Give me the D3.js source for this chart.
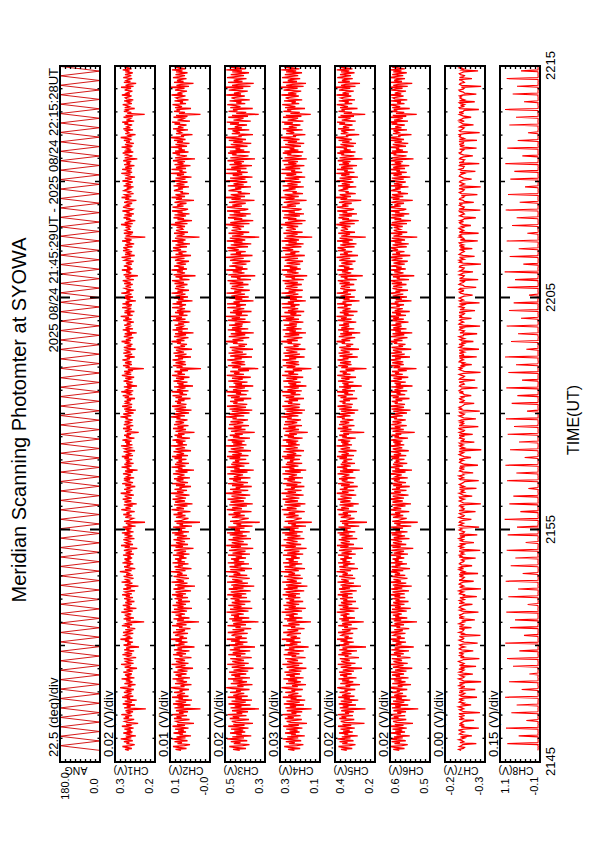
<!DOCTYPE html>
<html><head><meta charset="utf-8">
<script src="https://cdn.jsdelivr.net/npm/d3@7"></script>
<style>body{margin:0;background:#fff} svg{display:block} text{font-family:"Liberation Sans",Arial,Helvetica,sans-serif;fill:#000}</style>
</head><body><div id="chart"></div>
<script>
// ---------------- DATA ----------------
const titleText = "Meridian Scanning Photomter at SYOWA";
const subtitleText = "2025 08/24 21:45:29UT - 2025 08/24 22:15:28UT";
const timeAxisTitle = "TIME(UT)";
const timeTickSeconds = [0, 600, 1200, 1800];
const timeTickLabels = ["2145", "2155", "2205", "2215"];
const panelNames = ["ANG", "CH1(V)", "CH2(V)", "CH3(V)", "CH4(V)", "CH5(V)", "CH6(V)", "CH7(V)", "CH8(V)"];
const divLabels = ["22.5 (deg)/div", "0.02 (V)/div", "0.01 (V)/div", "0.02 (V)/div", "0.03 (V)/div", "0.02 (V)/div", "0.02 (V)/div", "0.00 (V)/div", "0.15 (V)/div"];
const maxLabels = ["180.0", "0.3", "0.1", "0.5", "0.3", "0.4", "0.6", "-0.2", "1.1"];
const minLabels = ["0.0", "0.2", "-0.0", "0.3", "0.1", "0.2", "0.5", "-0.3", "-0.1"];
// ANG in degrees, channels in mV
const domainMax = [180, 320, 70, 460, 310, 380, 640, -230, 1100];
const domainMin = [0, 180, -10, 300, 110, 220, 480, -260, -100];

// ANG turning points (s after 21:45:00)
const angStart = 30, angStep = 12.2;
const angValues = [0,180,0,180,0,180,0,180,0,180,0,180,0,180,0,180,0,180,0,180,
0,180,0,180,0,180,0,180,0,180,0,180,0,180,0,180,0,180,0,180,
0,180,0,180,0,180,0,180,0,180,0,180,0,180,0,180,0,180,0,180,
0,180,0,180,0,180,0,180,0,180,0,180,0,180,0,180,0,180,0,180,
0,180,0,180,0,180,0,180,0,180,0,180,0,180,0,180,0,180,0,180,
0,180,0,180,0,180,0,180,0,180,0,180,0,180,0,180,0,180,0,180,
0,180,0,180,0,180,0,180,0,180,0,180,0,180,0,180,0,180,0,180,
0,180,0,180,0,180,0,180];

// channel samples (s after 21:45:00)
const chStart = 30, chStep = 2.5;
const ch1 = [272,285,261,278,294,266,251,280,270,289,258,275,300,263,282,247,276,268,291,259,
279,264,287,255,273,296,262,281,239,277,286,267,253,290,271,284,260,298,269,276,
257,283,274,212,288,265,279,250,293,270,261,286,244,278,267,295,256,281,273,262,
289,268,277,254,284,302,263,275,248,287,271,259,282,266,297,252,279,270,285,261,
274,291,258,280,267,243,286,272,264,299,255,277,283,262,271,289,246,276,268,294,
260,282,275,253,288,269,281,236,273,290,264,278,257,285,270,301,259,276,266,287,
279,256,292,271,263,284,249,277,268,296,260,283,274,218,281,265,290,254,278,271,
286,263,276,298,258,272,289,245,280,267,293,261,275,284,252,279,270,288,257,282,
268,295,261,278,285,250,273,291,264,280,238,286,271,259,297,266,277,283,255,274,
290,258,281,269,276,303,262,285,249,272,288,267,279,256,294,263,280,271,287,260,
277,265,292,254,283,270,261,289,274,242,286,268,299,257,278,284,263,275,291,252,
281,273,259,287,266,296,255,279,270,285,262,293,248,276,267,282,215,288,271,264,
256,284,275,262,291,269,280,251,277,298,265,283,272,258,289,244,276,287,263,279,
293,261,278,286,254,272,300,266,281,259,288,270,276,249,284,263,295,257,274,283,
267,289,253,280,273,264,292,276,258,285,241,279,269,297,262,275,287,255,282,271,
278,260,287,271,296,257,283,266,274,290,250,277,286,263,272,299,259,281,268,285,
262,294,276,252,281,270,288,264,279,237,285,273,261,292,267,280,256,289,275,266,
286,269,258,283,274,301,263,278,291,255,272,284,247,288,270,261,295,276,260,282,
273,287,264,279,250,286,271,293,259,276,268,298,256,281,274,262,289,243,278,267,
281,258,290,275,266,284,253,277,296,263,280,270,288,257,275,219,283,269,292,261,
270,285,262,277,294,268,279,251,286,273,260,291,265,278,284,248,276,289,263,274,
259,281,273,297,264,282,270,256,289,275,261,286,244,279,268,293,257,283,272,266,
288,265,279,254,276,291,262,284,271,300,258,277,266,287,252,281,274,263,295,269,
276,261,294,270,283,247,279,266,289,257,285,273,262,298,268,280,255,277,286,264,
283,272,258,288,265,279,293,254,276,269,284,240,290,274,263,281,267,296,259,278,
265,289,276,261,282,270,255,287,279,264,297,272,251,285,269,278,260,292,273,282,
291,259,274,285,253,280,267,295,262,278,286,214,283,271,264,289,257,276,284,268,
271,283,263,277,299,258,286,272,249,281,266,290,275,261,287,254,280,269,294,263,
257,278,292,266,281,273,260,288,276,245,284,270,297,263,279,286,255,274,267,289,
282,268,279,255,290,264,283,271,258,294,277,262,285,250,273,281,266,298,260,276,
269,295,261,284,274,252,288,267,280,263,291,276,242,286,271,259,282,275,293,256,
287,263,278,270,297,259,276,285,254,281,268,289,262,277,300,266,273,248,284,271,
276,282,257,291,266,279,272,260,287,274,295,253,280,269,264,290,258,283,216,277,
263,289,275,282,251,286,270,278,293,261,275,267,288,256,279,284,271,262,296,268,
280,271,259,286,277,264,299,255,283,272,246,289,266,281,274,260,291,276,263,285,
272,258,284,269,293,262,278,287,253,276,282,265,290,270,257,286,274,298,261,279];
const ch2 = [48,59,37,52,64,41,30,55,46,61,35,50,67,39,57,28,51,44,63,38,
54,42,60,33,49,65,40,56,22,53,58,45,31,62,47,57,36,66,43,52,
34,58,50,9,61,42,55,29,64,47,38,59,26,53,44,66,33,56,49,40,
62,45,51,32,58,68,41,49,27,60,46,36,57,43,65,30,54,47,59,37,
50,63,35,55,44,24,59,48,39,67,33,52,58,40,47,61,27,51,45,64,
38,57,50,31,62,46,55,21,49,63,41,53,35,59,46,68,36,51,43,60,
54,34,64,47,40,58,29,52,45,66,37,57,49,12,56,42,63,31,53,47,
59,40,51,67,36,48,62,26,55,43,65,38,50,58,30,54,46,61,34,57,
44,66,38,53,59,28,49,63,41,55,20,60,47,35,67,42,52,57,32,50,
63,36,56,45,51,69,39,59,27,48,61,44,54,33,65,40,55,47,60,37,
52,42,64,31,57,46,38,62,49,23,59,44,68,34,53,58,40,50,63,30,
56,48,36,61,43,66,32,54,46,59,39,64,26,51,44,57,10,61,47,41,
33,58,50,39,63,45,55,29,52,67,42,57,48,35,62,25,51,60,40,54,
65,38,53,59,31,47,68,43,56,36,61,46,51,28,58,40,66,34,49,57,
43,62,30,55,48,41,64,51,35,59,22,54,45,67,39,50,60,32,57,46,
53,37,61,46,66,34,57,42,49,63,28,52,59,40,47,68,36,55,44,58,
39,65,51,30,56,46,61,41,54,21,59,48,38,64,43,55,33,62,50,42,
59,45,35,57,49,69,40,53,63,32,47,58,27,61,46,38,66,51,37,56,
48,60,41,54,29,59,46,65,36,51,44,67,33,56,49,39,62,24,53,43,
56,35,63,50,42,58,31,52,66,40,55,46,61,34,50,8,57,45,64,38,
46,59,39,52,65,44,54,28,60,48,37,63,42,53,58,26,51,62,40,49,
36,56,48,67,41,57,46,33,62,50,38,60,23,54,45,65,34,58,47,43,
61,42,54,31,51,64,39,58,46,68,35,52,43,60,29,56,49,40,66,45,
51,38,65,46,57,25,54,43,62,34,59,48,39,67,44,55,32,52,60,41,
58,47,35,61,42,54,66,31,51,45,59,19,63,49,40,56,44,67,36,53,
42,62,51,38,57,46,32,60,54,41,68,47,28,59,45,53,37,64,48,56,
64,36,49,59,30,55,43,66,39,53,60,11,57,47,41,62,34,51,58,44,
46,57,40,52,68,35,60,48,26,55,42,63,50,38,61,31,55,45,66,40,
34,53,65,43,56,49,37,61,51,22,58,46,67,40,54,59,32,49,44,62,
57,44,54,32,63,41,57,47,35,66,52,39,59,27,48,56,42,68,37,51,
45,67,38,58,50,29,61,43,55,40,64,51,20,60,47,36,57,50,65,33,
60,40,53,46,68,36,51,59,31,56,44,62,39,52,69,42,48,25,58,47,
51,57,34,64,43,54,48,37,61,50,66,30,55,45,41,63,35,58,9,52,
40,62,50,57,28,60,46,53,65,38,50,44,61,33,54,58,47,39,67,45,
55,47,36,60,52,41,68,32,57,48,23,62,43,56,50,37,64,51,40,59,
48,35,58,45,66,39,53,61,30,51,57,42,63,46,34,60,50,67,38,54];
const ch3 = [401,428,376,419,443,389,362,425,398,437,371,412,452,384,431,355,415,393,440,379,
423,387,436,366,408,447,382,427,348,417,433,396,364,441,403,429,374,450,391,414,
368,432,410,324,438,394,421,358,446,405,377,434,352,419,392,449,369,427,407,383,
440,397,416,362,430,455,386,411,350,437,402,372,428,390,448,360,421,399,435,375,
413,444,367,426,395,346,433,408,381,451,365,418,431,384,404,439,353,416,396,447,
378,429,414,359,441,400,425,340,409,445,387,420,370,436,401,453,373,419,392,434,
422,369,449,406,383,430,355,418,397,450,376,427,411,326,432,391,443,363,424,404,
436,385,413,454,366,404,440,351,426,394,447,379,415,433,358,421,402,438,372,429,
393,451,375,420,437,357,410,445,386,428,343,435,405,368,452,390,417,431,361,412,
445,371,426,399,414,458,380,439,352,407,442,395,423,364,449,383,425,403,436,376,
417,392,448,360,430,401,378,444,410,347,436,396,455,369,419,433,385,412,446,356,
429,406,373,441,389,452,361,422,400,437,382,447,350,414,395,427,321,440,404,388,
365,432,414,381,446,398,426,354,418,453,392,431,407,372,443,349,416,438,384,421,
450,377,420,434,359,405,457,394,429,367,440,399,417,353,432,386,448,368,410,428,
396,443,358,425,411,388,451,415,370,438,345,423,401,454,382,413,435,363,430,403,
420,375,442,399,452,366,431,393,408,446,356,418,437,385,404,456,374,427,391,433,
381,449,415,360,428,402,441,389,421,341,436,409,378,447,394,425,364,444,412,387,
438,397,368,430,413,456,383,419,445,362,406,433,351,442,399,376,452,415,371,427,
410,440,385,423,355,436,401,450,373,416,396,455,366,428,411,380,444,347,419,392,
426,370,447,407,389,432,357,415,453,384,424,402,439,364,408,327,431,397,448,379,
399,434,381,418,451,393,422,352,439,409,374,446,388,420,433,348,414,441,380,406,
372,428,410,457,386,430,398,363,445,412,379,437,345,419,394,449,367,432,404,391,
444,389,421,358,413,448,378,433,400,456,369,417,392,440,354,428,409,383,451,398,
415,376,452,401,426,346,418,391,443,365,435,407,380,454,395,423,361,414,437,386,
433,405,366,441,387,420,450,356,412,398,436,339,447,409,382,429,393,455,370,418,
388,443,411,374,431,400,359,440,422,385,456,404,350,438,396,416,377,447,405,427,
451,368,402,437,355,425,390,453,379,414,441,323,432,401,386,446,363,411,434,395,
404,430,384,417,457,362,439,408,347,424,391,448,413,375,442,357,425,399,452,381,
367,419,453,392,431,406,377,444,415,342,434,397,458,380,421,437,360,409,394,446,
428,395,420,356,449,385,426,403,371,455,416,378,440,350,405,429,391,457,369,412,
397,454,374,435,409,352,442,393,424,384,450,411,340,439,402,366,431,414,448,361,
441,383,418,399,457,370,412,437,355,427,389,445,376,418,459,393,406,348,433,400,
413,430,363,449,392,421,407,372,440,404,453,357,426,397,386,447,368,432,325,415,
375,446,410,428,349,439,398,417,451,379,415,394,442,361,420,434,403,381,455,396,
424,401,369,445,414,387,458,358,432,406,345,448,390,425,411,374,452,418,384,437,
403,364,431,392,455,378,419,441,353,409,428,388,450,400,366,439,412,456,373,422];
const ch4 = [238,270,209,258,289,226,193,265,236,281,204,251,297,219,274,186,255,231,285,212,
262,222,279,198,247,294,216,268,175,256,277,233,201,286,241,272,207,299,228,253,
199,276,249,152,283,230,261,190,291,243,211,278,184,257,227,296,202,269,245,218,
284,234,253,196,273,303,221,250,180,280,239,206,270,224,293,192,260,236,279,210,
248,288,203,266,232,178,277,245,214,298,197,259,274,220,240,284,182,252,229,292,
213,271,254,191,287,238,265,167,246,290,223,261,205,279,237,301,209,257,226,276,
264,205,294,243,219,273,187,255,233,296,212,268,247,155,275,228,289,198,263,240,
281,221,250,302,200,240,286,181,267,231,293,214,256,278,194,262,239,283,208,270,
230,297,210,259,282,189,246,291,222,272,173,280,242,203,299,226,254,276,196,249,
290,207,268,235,253,305,216,285,185,244,288,232,264,199,295,220,267,241,281,211,
255,227,295,194,274,238,213,290,248,177,283,231,304,204,257,278,222,250,292,188,
273,243,208,286,224,299,196,263,237,282,217,293,180,253,230,270,151,287,241,225,
201,279,252,217,292,234,267,186,258,301,227,276,244,207,289,183,254,284,220,265,
297,213,261,280,192,242,303,230,272,202,287,236,255,188,278,223,296,204,248,273,
235,291,195,266,250,225,298,256,206,285,179,263,238,302,218,251,281,199,275,243,
260,210,288,237,300,203,276,229,245,293,190,258,282,221,242,304,211,270,228,279,
219,296,254,197,271,240,289,226,264,171,283,247,215,295,232,268,200,290,251,224,
285,233,205,275,251,304,218,260,292,198,244,278,185,288,236,212,299,253,209,270,
248,288,220,266,190,281,239,297,208,257,231,302,201,273,249,216,291,178,262,229,
269,206,294,245,224,278,194,255,300,219,268,240,287,200,246,153,277,233,296,214,
236,280,216,259,298,229,265,187,286,247,210,293,223,262,279,183,254,289,217,243,
207,272,250,304,221,276,236,198,292,255,214,284,180,263,230,297,202,278,242,227,
291,225,264,193,252,295,215,281,239,305,204,258,228,288,189,270,247,219,299,234,
257,212,302,240,271,181,260,226,290,199,282,245,218,303,232,267,196,254,285,222,
279,244,201,287,221,264,297,191,252,235,283,174,294,249,217,275,229,301,206,261,
223,290,253,209,277,238,195,286,266,220,304,246,186,284,233,258,213,296,244,272,
299,203,242,283,192,268,226,302,215,256,288,149,278,240,222,293,197,252,281,231,
245,277,219,261,306,198,285,248,182,270,228,294,257,210,289,190,267,236,300,217,
202,263,301,230,276,250,211,291,258,177,282,237,305,216,265,287,195,247,226,295,
275,232,267,191,297,222,273,244,206,303,259,214,286,184,241,278,229,304,199,254,
234,302,209,283,249,188,291,228,269,220,298,256,176,287,240,201,274,253,296,194,
288,218,262,238,305,205,256,284,189,271,225,293,212,260,307,230,245,183,280,239,
252,278,197,296,226,266,243,208,289,246,301,193,272,235,220,295,203,281,156,258,
211,293,254,274,185,285,233,261,299,214,252,231,290,199,266,282,242,216,303,228,
270,240,204,292,258,222,306,192,279,247,180,296,225,271,255,209,300,262,219,286,
244,200,280,229,304,213,263,289,187,250,276,224,298,237,203,287,253,305,207,267];
const ch5 = [333,356,311,345,366,322,298,351,330,362,306,341,370,318,353,289,343,327,364,309,
348,321,358,301,337,368,315,350,262,342,357,329,303,363,335,354,308,369,324,340,
305,355,339,258,361,326,349,296,365,334,312,357,287,345,320,367,302,352,337,317,
362,330,342,299,354,371,319,338,280,359,332,307,352,323,366,294,346,331,360,313,
340,364,304,349,327,272,357,336,315,369,298,344,355,321,333,361,284,341,326,367,
314,353,343,292,363,331,350,256,337,365,323,346,305,358,330,372,310,342,325,355,
347,307,368,334,318,352,290,343,328,367,313,351,339,265,354,324,363,300,347,332,
358,322,340,373,302,332,361,286,349,326,366,311,344,356,296,347,331,360,308,351,
328,369,310,345,359,293,338,364,320,352,276,358,335,304,370,325,341,355,299,339,
364,308,350,329,342,374,316,361,288,337,363,327,348,301,368,319,350,334,359,312,
344,325,368,297,354,331,313,364,338,268,359,326,372,304,345,357,321,339,365,291,
354,336,309,362,323,370,299,347,330,358,317,366,283,343,327,352,252,360,335,322,
302,357,341,316,366,328,349,292,344,371,324,355,337,306,362,285,342,359,318,348,
369,313,347,358,295,334,373,326,352,303,361,330,345,289,356,321,368,305,338,353,
330,364,298,348,340,322,370,345,307,360,281,349,331,372,317,341,357,300,352,336,
346,311,362,332,372,304,354,325,336,366,294,343,358,320,335,374,312,351,326,356,
319,368,343,297,351,333,363,324,347,263,359,338,314,369,327,350,302,364,340,323,
359,330,306,352,341,373,318,345,365,301,335,356,287,363,331,313,370,342,309,350,
338,362,320,347,291,358,334,369,308,343,327,372,300,351,339,316,364,273,346,326,
351,306,368,339,322,355,296,341,371,318,349,333,361,302,338,254,355,328,367,314,
331,360,316,344,370,326,349,289,362,337,310,366,321,346,357,284,342,363,317,335,
307,353,340,374,319,354,332,299,365,343,312,359,279,348,325,368,303,355,336,323,
364,324,347,295,341,369,314,356,333,374,305,345,326,361,290,350,337,318,370,330,
343,313,372,335,350,282,346,322,364,301,358,337,316,373,328,347,297,341,359,320,
356,338,303,362,321,348,369,293,342,330,357,269,366,339,315,352,327,371,306,344,
322,365,342,310,355,333,298,363,348,319,374,336,288,360,329,345,311,368,337,352,
370,302,337,359,294,350,323,372,309,344,362,257,355,336,320,367,300,341,357,328,
338,354,318,346,375,301,362,339,285,351,324,366,345,312,363,292,350,331,371,316,
304,347,373,326,352,340,313,364,343,275,358,331,376,316,349,361,297,338,325,366,
353,327,349,295,368,320,353,337,306,373,346,314,362,288,336,355,322,375,302,343,
329,372,309,356,341,292,364,324,350,318,369,343,270,362,334,303,355,344,371,298,
361,317,345,332,376,305,343,358,296,351,322,366,313,347,377,327,336,283,357,333,
342,355,301,368,323,348,335,310,363,340,372,297,353,329,318,367,304,358,259,345,
312,366,341,354,290,360,328,346,373,311,341,325,365,300,347,357,334,315,374,324,
350,335,305,364,345,319,376,298,356,337,280,368,321,352,342,309,371,346,316,360,
340,302,356,323,373,310,347,362,293,339,354,320,369,331,303,363,343,376,308,349];
const ch6 = [603,627,582,616,638,593,569,622,600,634,577,612,641,589,624,561,614,597,636,580,
619,591,630,573,608,640,586,621,548,613,628,599,575,635,606,625,579,642,595,611,
576,626,610,527,632,597,620,567,637,605,583,628,559,616,592,639,574,623,608,588,
634,601,613,571,625,644,590,609,556,631,603,578,623,594,638,566,617,600,632,584,
611,636,574,620,598,551,628,607,586,641,569,615,626,592,604,633,558,612,597,639,
585,624,614,564,635,602,621,545,608,637,594,617,576,630,601,643,581,613,596,627,
618,578,640,605,589,623,563,614,599,638,584,622,610,532,625,595,635,571,619,603,
629,593,611,645,573,603,632,557,620,597,637,582,615,627,566,618,602,631,579,622,
599,640,581,616,630,564,609,635,591,623,553,629,606,575,642,596,612,626,570,610,
636,579,621,600,613,646,587,632,560,608,634,598,619,572,639,590,621,605,630,583,
615,596,639,568,625,602,584,635,609,547,630,597,644,575,616,628,592,610,637,562,
625,607,580,633,594,642,570,618,601,629,588,637,555,614,598,623,529,631,606,593,
573,628,612,587,637,599,620,563,615,644,595,626,608,578,633,556,613,630,589,619,
641,584,618,629,566,605,645,597,623,574,632,600,616,561,627,592,639,576,609,624,
601,635,569,619,611,593,642,616,578,631,552,620,602,643,588,612,628,571,623,607,
617,582,633,603,643,575,625,596,607,637,565,614,629,591,606,646,583,622,597,627,
590,639,614,568,622,604,634,595,618,541,630,609,585,640,598,621,573,635,611,594,
630,601,577,623,612,645,589,616,636,572,606,627,558,634,602,584,641,613,580,621,
609,633,591,618,562,629,605,640,579,614,598,643,571,622,610,587,635,550,617,597,
622,577,639,610,593,626,567,612,642,589,620,604,632,573,609,534,626,599,638,585,
600,631,587,615,641,597,620,560,633,608,581,637,592,617,628,555,613,634,588,606,
578,624,611,645,590,625,603,570,636,614,583,630,551,619,596,640,574,627,605,594,
635,595,618,566,612,640,585,627,604,646,576,616,597,632,561,621,608,589,641,601,
614,584,643,606,621,554,617,593,635,572,629,608,587,644,599,618,568,612,630,591,
627,609,574,633,592,619,640,564,613,601,628,543,637,610,586,623,598,642,577,615,
593,636,612,581,626,604,569,634,619,590,645,607,559,631,600,616,582,638,608,623,
641,573,608,630,565,621,594,643,580,615,633,531,626,607,591,637,571,612,625,599,
609,625,589,617,646,572,633,610,556,622,595,637,616,583,634,563,620,602,642,587,
575,618,644,597,623,611,584,635,614,549,629,602,647,587,620,632,568,609,596,637,
624,598,620,566,639,591,624,608,577,644,617,585,633,559,607,626,593,646,573,614,
600,643,580,627,612,563,635,595,621,589,640,614,546,633,605,574,626,615,642,569,
632,588,616,603,647,576,614,629,567,622,593,637,584,618,648,598,607,554,628,604,
613,626,572,639,594,619,606,581,634,611,643,568,624,600,589,638,575,629,533,616,
583,637,611,625,561,631,599,618,644,582,612,596,636,571,621,628,605,586,645,595,
621,606,576,635,616,590,647,569,627,608,551,639,592,623,613,580,642,617,587,631,
611,573,627,594,644,581,620,632,564,610,625,591,641,603,574,630,614,646,579,622];
const ch7 = [-242.1,-240.4,-243.8,-244.6,-240.9,-242.5,-243.2,-253.5,-241.2,-244.1,-243.0,-240.3,-242.7,-244.9,-241.6,-250.2,
-243.7,-240.8,-241.9,-244.3,-242.4,-240.1,-243.9,-255.4,-242.2,-244.5,-240.7,-243.3,-241.5,-242.8,-244.2,-251.8,
-240.6,-243.6,-242.3,-241.1,-244.7,-242.0,-240.5,-256.2,-243.9,-242.4,-240.9,-244.0,-242.6,-240.2,-243.4,-249.6,
-242.9,-244.4,-240.7,-241.8,-243.5,-240.4,-244.1,-254.0,-242.3,-241.0,-243.6,-244.8,-240.6,-243.1,-242.0,-252.7,
-241.3,-242.6,-244.9,-240.5,-241.9,-243.7,-240.8,-257.1,-244.0,-242.2,-240.3,-243.4,-244.5,-242.1,-240.9,-250.9,
-243.8,-240.7,-242.9,-244.2,-240.4,-244.6,-241.7,-253.3,-240.8,-243.2,-244.3,-241.6,-240.2,-242.5,-243.9,-255.8,
-241.6,-244.3,-241.1,-242.7,-243.6,-240.5,-243.8,-251.2,-242.5,-240.7,-241.9,-244.7,-242.0,-240.9,-243.3,-254.5,
-244.4,-242.2,-240.6,-243.5,-244.1,-242.4,-240.8,-256.6,-241.8,-243.9,-240.5,-242.6,-243.8,-244.2,-240.7,-249.9,
-240.8,-243.0,-243.9,-240.4,-242.0,-244.5,-242.5,-252.4,-244.2,-240.6,-243.7,-241.4,-240.9,-242.8,-244.1,-255.1,
-242.8,-240.9,-244.4,-242.5,-240.7,-241.6,-243.9,-250.6,-240.6,-243.8,-242.3,-240.8,-244.5,-243.0,-241.2,-253.9,
-243.9,-244.6,-240.8,-241.5,-243.7,-240.4,-242.4,-257.0,-243.6,-240.9,-244.0,-242.5,-240.7,-241.8,-243.8,-251.5,
-240.6,-242.3,-243.7,-244.5,-240.9,-243.8,-240.5,-254.8,-241.4,-244.6,-242.4,-240.6,-243.9,-240.8,-242.5,-250.3,
-242.5,-240.8,-241.6,-243.6,-244.4,-242.3,-243.8,-253.0,-240.7,-242.5,-240.9,-244.1,-242.2,-243.7,-240.6,-256.4,
-244.1,-241.0,-243.6,-240.7,-242.4,-244.4,-240.9,-251.7,-243.8,-241.6,-243.6,-240.5,-242.3,-244.8,-241.2,-254.2,
-240.7,-243.9,-244.6,-242.2,-240.6,-242.5,-241.4,-255.6,-244.4,-240.8,-242.4,-243.9,-240.7,-241.3,-243.6,-249.8,
-242.3,-240.5,-243.8,-244.4,-242.2,-240.9,-243.7,-252.9,-240.6,-243.9,-244.5,-242.3,-243.6,-240.8,-241.6,-256.9,
-243.8,-242.4,-240.7,-242.5,-244.5,-241.2,-240.8,-250.4,-243.7,-242.2,-240.6,-244.4,-242.4,-243.8,-240.9,-253.6,
-240.9,-244.4,-242.5,-240.8,-242.3,-243.7,-244.6,-255.3,-241.5,-240.7,-243.9,-242.4,-240.5,-244.1,-243.6,-251.1,
-243.6,-240.8,-241.6,-244.5,-240.7,-243.6,-241.2,-254.7,-244.6,-242.5,-240.9,-241.7,-243.8,-240.6,-244.4,-249.5,
-244.4,-242.3,-240.6,-242.4,-243.9,-240.5,-243.7,-257.2,-240.8,-244.4,-242.3,-240.9,-243.6,-241.6,-240.7,-252.0,
-241.6,-243.8,-244.4,-240.9,-241.5,-244.6,-240.6,-250.8,-242.4,-240.7,-243.8,-244.5,-241.2,-240.5,-243.9,-255.0,
-240.6,-242.5,-243.9,-241.6,-244.4,-240.8,-242.4,-253.2,-243.9,-242.3,-240.6,-243.7,-244.6,-241.3,-240.8,-256.1,
-243.7,-240.9,-242.3,-240.6,-242.5,-243.9,-244.5,-251.9,-240.7,-243.6,-244.4,-241.5,-240.9,-243.8,-242.4,-249.7,
-244.5,-243.6,-240.8,-243.8,-240.6,-241.6,-242.5,-254.4,-242.3,-240.8,-241.6,-244.4,-243.7,-240.6,-244.5,-252.6,
-240.8,-241.5,-243.7,-244.6,-242.4,-240.7,-243.9,-256.7,-244.4,-242.4,-240.7,-242.5,-240.8,-243.9,-241.6,-250.1,
-242.4,-244.4,-240.6,-241.3,-243.8,-242.5,-240.9,-253.8,-240.6,-243.9,-243.6,-240.8,-244.5,-242.3,-240.7,-255.5,
-243.9,-240.7,-242.4,-243.7,-240.5,-244.4,-242.3,-251.3,-242.5,-241.2,-244.6,-242.4,-240.6,-243.7,-243.9,-254.1,
-241.2,-243.6,-244.5,-240.8,-241.6,-243.8,-240.7,-256.3,-243.8,-240.5,-241.5,-243.9,-242.5,-240.9,-242.4,-249.9,
-240.7,-242.3,-241.2,-243.9,-244.6,-240.6,-243.6,-252.5,-241.2,-243.7,-244.4,-240.7,-242.3,-244.5,-240.8,-255.9,
-242.5,-240.9,-243.8,-242.3,-240.7,-242.4,-244.4,-250.7,-244.5,-241.6,-240.8,-243.6,-243.9,-240.6,-241.5,-253.4,
-244.6,-243.7,-240.5,-241.5,-243.6,-244.5,-240.9,-254.9,-240.9,-242.5,-243.8,-244.4,-240.7,-242.4,-243.8,-251.0,
-240.9,-242.4,-243.9,-244.4,-240.8,-241.2,-243.7,-257.0,-243.6,-240.8,-242.3,-240.6,-244.4,-242.5,-240.9,-252.2,
-243.6,-240.6,-241.6,-242.5,-244.5,-243.7,-240.8,-250.5,-241.6,-244.5,-240.7,-243.8,-241.5,-240.7,-244.6,-254.6,
-241.5,-244.4,-243.7,-240.6,-242.4,-240.9,-242.5,-255.2,-240.8,-242.3,-243.9,-241.6,-240.5,-243.9,-242.4,-249.4,
-243.8,-241.6,-240.9,-243.9,-241.2,-243.6,-244.5,-253.1,-243.7,-240.9,-242.4,-244.5,-243.6,-241.2,-240.6,-256.5,
-240.5,-243.7,-244.4,-242.3,-240.8,-242.4,-240.7,-251.6,-244.4,-243.6,-240.8,-241.2,-243.8,-244.6,-242.3,-254.3,
-242.3,-240.8,-242.4,-243.8,-244.4,-240.5,-243.6,-256.8,-240.7,-242.4,-244.5,-242.5,-240.9,-241.5,-243.7,-250.0,
-243.9,-242.5,-240.7,-241.2,-242.3,-244.5,-241.2,-252.8,-242.4,-240.7,-243.6,-243.9,-244.4,-240.8,-241.6,-255.7,
-240.6,-243.9,-243.6,-244.6,-240.9,-241.6,-243.8,-250.9,-243.9,-241.5,-240.6,-242.3,-242.5,-243.8,-240.9,-253.7,
-243.7,-241.2,-244.5,-240.7,-243.6,-243.9,-240.5,-254.0,-240.8,-244.4,-242.5,-240.8,-241.6,-240.6,-244.5,-256.0,
-241.6,-240.7,-242.3,-243.6,-244.4,-240.8,-242.4,-251.4,-243.6,-242.3,-240.9,-244.4,-240.7,-242.5,-243.8,-249.6,
-244.4,-242.4,-240.8,-243.9,-240.6,-243.7,-244.4,-255.4,-241.2,-240.6,-243.8,-242.4,-244.5,-241.6,-240.7,-252.3,
-240.8,-244.5,-242.5,-241.2,-242.3,-240.9,-243.6,-253.5,-244.6,-243.7,-241.2,-240.5,-243.6,-244.4,-242.4,-257.1,
-242.5,-240.9,-241.6,-244.5,-243.7,-242.3,-240.6,-250.2,-240.9,-243.8,-244.5,-241.6,-240.8,-242.4,-243.9,-254.8,
-242.4,-243.8,-240.7,-242.5,-244.4,-240.6,-242.3,-252.1,-243.6,-240.9,-242.3,-244.4,-242.5,-240.8,-243.7,-255.3];
const ch8 = [-42,-38,-45,-40,-47,-36,-44,880,-39,-41,-46,-37,-43,-48,-40,540,
-44,-39,-41,-46,-37,-43,-40,920,-45,-38,-42,-47,-36,-44,-41,310,
-40,-46,-37,-43,-48,-39,-45,760,-38,-42,-44,-36,-47,-40,-43,600,
-46,-37,-43,-40,-44,-48,-39,950,-42,-45,-38,-41,-46,-37,-44,450,
-39,-44,-47,-38,-42,-36,-45,830,-43,-40,-46,-39,-37,-44,-42,220,
-45,-40,-38,-46,-41,-43,-37,710,-47,-39,-42,-45,-40,-36,-44,890,
-38,-43,-46,-40,-37,-45,-42,520,-40,-46,-38,-43,-48,-41,-39,940,
-43,-47,-39,-42,-45,-38,-41,380,-44,-37,-45,-40,-42,-46,-38,800,
-41,-36,-44,-47,-39,-42,-46,650,-38,-43,-40,-45,-37,-41,-47,910,
-46,-42,-38,-41,-44,-40,-37,270,-45,-39,-47,-42,-38,-44,-40,850,
-37,-45,-41,-39,-46,-43,-44,560,-41,-46,-37,-40,-45,-38,-43,930,
-44,-39,-47,-43,-38,-41,-40,420,-36,-42,-44,-47,-40,-45,-39,780,
-40,-46,-42,-37,-44,-39,-45,640,-47,-40,-38,-43,-41,-37,-46,900,
-45,-38,-40,-44,-41,-47,-36,330,-42,-45,-41,-38,-46,-43,-40,870,
-39,-43,-46,-40,-37,-42,-44,590,-40,-38,-45,-44,-39,-47,-42,960,
-42,-47,-38,-45,-43,-40,-39,490,-46,-41,-43,-37,-45,-40,-38,820,
-46,-40,-43,-39,-47,-36,-42,700,-39,-44,-46,-41,-38,-43,-45,250,
-38,-44,-41,-46,-40,-45,-37,890,-43,-47,-40,-45,-42,-38,-44,610,
-43,-39,-45,-42,-38,-44,-47,940,-37,-42,-44,-39,-46,-41,-40,360,
-41,-45,-37,-43,-46,-39,-40,800,-45,-38,-41,-47,-40,-44,-36,530,
-47,-42,-40,-38,-44,-46,-43,870,-40,-46,-39,-42,-45,-37,-43,680,
-39,-37,-46,-44,-41,-42,-38,920,-44,-41,-47,-38,-43,-46,-40,290,
-44,-46,-39,-41,-37,-45,-42,750,-38,-43,-40,-46,-41,-39,-47,580,
-40,-43,-42,-47,-45,-38,-46,910,-42,-37,-44,-40,-47,-43,-38,440,
-45,-38,-44,-40,-42,-47,-39,850,-46,-40,-43,-38,-41,-45,-42,620,
-37,-44,-47,-43,-39,-41,-45,950,-40,-46,-38,-44,-39,-42,-47,310,
-43,-40,-38,-46,-44,-37,-41,770,-45,-39,-42,-47,-44,-38,-40,560,
-46,-41,-45,-39,-40,-43,-38,900,-37,-44,-46,-41,-43,-40,-45,470,
-40,-47,-42,-44,-38,-45,-43,830,-43,-40,-39,-45,-37,-46,-41,690,
-42,-39,-36,-41,-46,-40,-44,230,-46,-42,-45,-38,-40,-43,-47,880,
-38,-45,-43,-47,-42,-38,-40,650,-41,-37,-44,-46,-42,-39,-43,960,
-45,-42,-40,-37,-45,-44,-46,400,-39,-45,-41,-43,-47,-40,-38,810,
-41,-38,-46,-43,-40,-47,-39,540,-44,-42,-38,-40,-45,-46,-42,900,
-47,-43,-39,-45,-41,-38,-44,280,-40,-46,-43,-39,-41,-37,-45,740,
-39,-46,-44,-40,-43,-42,-37,600,-46,-38,-40,-45,-43,-41,-39,930,
-44,-40,-41,-46,-38,-45,-43,510,-42,-47,-39,-41,-38,-44,-46,860,
-36,-42,-45,-39,-47,-41,-40,350,-45,-40,-44,-42,-46,-39,-43,790,
-43,-47,-40,-42,-44,-39,-46,670,-38,-43,-41,-47,-40,-45,-42,940,
-40,-39,-43,-47,-40,-44,-38,430,-44,-46,-38,-43,-39,-42,-40,880,
-46,-44,-38,-41,-45,-42,-47,570,-41,-39,-45,-40,-44,-47,-37,260,
-42,-37,-44,-46,-39,-40,-45,820,-47,-43,-40,-38,-42,-45,-41,620,
-45,-41,-47,-38,-43,-46,-39,950,-40,-44,-46,-42,-39,-37,-44,380,
-38,-46,-40,-44,-41,-37,-43,720,-43,-41,-38,-45,-47,-40,-46,590,
-43,-40,-45,-39,-46,-42,-41,900,-37,-45,-42,-39,-44,-41,-38,470,
-41,-44,-38,-42,-40,-45,-47,840,-45,-38,-43,-46,-40,-42,-44,300];

// ---------------- DRAW ----------------
const W = 595, H = 842;
const svg = d3.select("#chart").append("svg").attr("width", W).attr("height", H);
svg.append("rect").attr("width", W).attr("height", H).attr("fill", "#fff");
// landscape drawing, rotated 90deg counter-clockwise onto the portrait page
const g = svg.append("g").attr("transform", `translate(0,${H}) rotate(-90)`);

const x = d3.scaleLinear().domain([0, 1800]).range([80, 776]);
const panelH = 40, panelGap = 55, firstTop = 60;

const seriesList = [
  {v: angValues, t0: angStart, dt: angStep, w: 0.9, c: "#d00000"},
  {v: ch1, t0: chStart, dt: chStep, w: 1.35, c: "#ff0000"},
  {v: ch2, t0: chStart, dt: chStep, w: 1.35, c: "#ff0000"},
  {v: ch3, t0: chStart, dt: chStep, w: 1.35, c: "#ff0000"},
  {v: ch4, t0: chStart, dt: chStep, w: 1.35, c: "#ff0000"},
  {v: ch5, t0: chStart, dt: chStep, w: 1.35, c: "#ff0000"},
  {v: ch6, t0: chStart, dt: chStep, w: 1.35, c: "#ff0000"},
  {v: ch7, t0: chStart, dt: chStep, w: 1.3, c: "#ff0000"},
  {v: ch8, t0: chStart, dt: chStep, w: 1.1, c: "#ff0000"}
];

const defs = svg.append("defs");

panelNames.forEach((name, i) => {
  const top = firstTop + panelGap * i, bottom = top + panelH;
  const y = d3.scaleLinear().domain([domainMin[i], domainMax[i]]).range([bottom, top]);
  const p = g.append("g");

  defs.append("clipPath").attr("id", "clip" + i)
    .append("rect").attr("x", x(0)).attr("y", top).attr("width", x(1800) - x(0)).attr("height", panelH);

  const s = seriesList[i];
  const line = d3.line().x((d, k) => x(s.t0 + k * s.dt)).y(d => y(d));
  p.append("path").datum(s.v).attr("d", line)
    .attr("clip-path", `url(#clip${i})`)
    .attr("fill", "none").attr("stroke", s.c).attr("stroke-width", s.w);

  // time ticks (inward, both edges)
  const tickSets = [
    {vals: d3.range(60, 1800, 60).filter(t => t % 300 !== 0), len: 2.5, w: 1.3},
    {vals: [300, 900, 1500], len: 5, w: 1.5},
    {vals: [600, 1200], len: 10, w: 2}
  ];
  tickSets.forEach(ts => {
    const a1 = p.append("g").attr("transform", `translate(0,${top})`)
      .call(d3.axisBottom(x).tickValues(ts.vals).tickSize(ts.len).tickFormat(""));
    const a2 = p.append("g").attr("transform", `translate(0,${bottom})`)
      .call(d3.axisTop(x).tickValues(ts.vals).tickSize(ts.len).tickFormat(""));
    [a1, a2].forEach(a => {
      a.select(".domain").remove();
      a.selectAll("line").attr("stroke", "#000").attr("stroke-width", ts.w);
    });
  });

  // value ticks (8 divisions) at both time ends
  const span = domainMax[i] - domainMin[i];
  const vt = d3.range(1, 8).map(k => domainMin[i] + k * span / 8);
  const b1 = p.append("g").attr("transform", `translate(${x(0)},0)`)
    .call(d3.axisRight(y).tickValues(vt).tickSize(3).tickFormat(""));
  const b2 = p.append("g").attr("transform", `translate(${x(1800)},0)`)
    .call(d3.axisLeft(y).tickValues(vt).tickSize(3).tickFormat(""));
  [b1, b2].forEach(a => {
    a.select(".domain").remove();
    a.selectAll("line").attr("stroke", "#000").attr("stroke-width", 1.3);
  });

  // frame
  p.append("rect").attr("x", x(0)).attr("y", top).attr("width", x(1800) - x(0)).attr("height", panelH)
    .attr("fill", "none").attr("stroke", "#000").attr("stroke-width", 2);

  // labels
  p.append("text").attr("x", 85).attr("y", top - 2.5).attr("font-size", 13).text(divLabels[i]);
  p.append("text").attr("x", 56).attr("y", y(domainMax[i]) + 8.5).attr("text-anchor", "middle")
    .attr("font-size", 11).text(maxLabels[i]);
  p.append("text").attr("x", 56).attr("y", y(domainMin[i]) - 2.5).attr("text-anchor", "middle")
    .attr("font-size", 11).text(minLabels[i]);
  p.append("text").attr("transform", `translate(75,${(top + bottom) / 2 - 4}) rotate(-90)`)
    .attr("text-anchor", "middle").attr("font-size", 10.5).text(name);
});

// time axis labels
const lastBottom = firstTop + panelGap * 8 + panelH;
const ta = g.append("g").attr("transform", `translate(0,${lastBottom})`)
  .call(d3.axisBottom(x).tickValues(timeTickSeconds).tickSize(0)
    .tickFormat((d, k) => timeTickLabels[k]));
ta.select(".domain").remove();
ta.selectAll("text").attr("font-size", 13).attr("dy", null).attr("y", 15)
  .attr("font-family", "'Liberation Sans',Arial,sans-serif").attr("fill", "#000");

g.append("text").attr("x", 422).attr("y", 579).attr("text-anchor", "middle")
  .attr("font-size", 16).text(timeAxisTitle);
g.append("text").attr("x", 422).attr("y", 26).attr("text-anchor", "middle")
  .attr("font-size", 20).text(titleText);
g.append("text").attr("x", 774).attr("y", 58).attr("text-anchor", "end")
  .attr("font-size", 13).text(subtitleText);
</script></body></html>
